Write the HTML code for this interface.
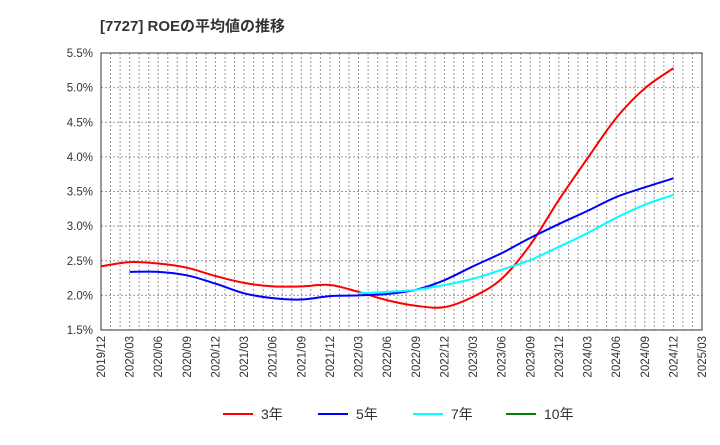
<!DOCTYPE html>
<html><head><meta charset="utf-8"><style>
body{margin:0;background:#fff;font-family:"Liberation Sans","Noto Sans CJK JP",sans-serif;}
svg text{font-family:"Liberation Sans","Noto Sans CJK JP",sans-serif;}
</style></head><body>
<svg id="c" width="720" height="440">
<text x="100" y="31" font-size="15" font-weight="bold" fill="#333">[7727]  ROEの平均値の推移</text>
<g id="grid"></g><g id="axes"></g><g id="series"></g><g id="legend"></g>
</svg>
<script>
const quarters=["2019/12","2020/03","2020/06","2020/09","2020/12","2021/03","2021/06","2021/09","2021/12","2022/03","2022/06","2022/09","2022/12","2023/03","2023/06","2023/09","2023/12","2024/03","2024/06","2024/09","2024/12","2025/03"];
const yTicks=[1.5,2.0,2.5,3.0,3.5,4.0,4.5,5.0,5.5];
const roe3=[2.42,2.48,2.46,2.40,2.28,2.18,2.13,2.13,2.15,2.05,1.93,1.85,1.83,1.98,2.24,2.73,3.38,3.98,4.56,4.99,5.28];
const roe5=[null,2.34,2.34,2.29,2.17,2.03,1.96,1.94,1.99,2.00,2.02,2.08,2.22,2.42,2.61,2.83,3.03,3.22,3.42,3.56,3.69];
const roe7=[null,null,null,null,null,null,null,null,null,2.03,2.05,2.08,2.15,2.24,2.37,2.51,2.70,2.90,3.12,3.31,3.45];
const roe10=[];
const seriesNames=["3年","5年","7年","10年"];
const colors=["#ff0000","#0000ff","#00ffff","#008000"];
const X0=101,X1=702,Y0=330,Y1=53;
const NS="http://www.w3.org/2000/svg";
function xs(i){return X0+(X1-X0)*i/(quarters.length-1);}
function ys(v){return Y0-(v-1.5)/(5.5-1.5)*(Y0-Y1);}
function mk(t,a,p){const e=document.createElementNS(NS,t);for(const k in a)e.setAttribute(k,a[k]);p.appendChild(e);return e;}
const g=document.getElementById('grid'),ax=document.getElementById('axes'),sg=document.getElementById('series'),lg=document.getElementById('legend');
const nm=(quarters.length-1)*3;
for(let m=1;m<nm;m++){const x=X0+(X1-X0)*m/nm;const l=mk('line',{x1:x,x2:x,y1:Y1,y2:Y0,stroke:'#999','stroke-dasharray':'2,2','stroke-width':1},g);

}
yTicks.forEach(v=>{const y=ys(v);
if(v>1.5&&v<5.5){const l=mk('line',{x1:X0,x2:X1,y1:y,y2:y,stroke:'#999','stroke-dasharray':'2,2'},g);

}
const t=mk('text',{x:X0-8,y:y+4,'text-anchor':'end','font-size':11.5,fill:'#333'},ax);t.textContent=v.toFixed(1)+'%';

});
quarters.forEach((q,i)=>{const x=xs(i);const t=mk('text',{transform:`translate(${x+4},${Y0+6}) rotate(-90)`,'text-anchor':'end','font-size':11.5,fill:'#333'},ax);t.textContent=q;

});
const fr=mk('rect',{x:X0,y:Y1,width:X1-X0,height:Y0-Y1,fill:'none',stroke:'#333','stroke-width':1},ax);


function path(arr){const p=[];arr.forEach((v,i)=>{if(v!=null)p.push([xs(i),ys(v)]);});if(p.length<2)return '';
let d=`M${p[0][0]},${p[0][1]}`;for(let i=0;i<p.length-1;i++){const a=p[i-1]||p[i],b=p[i],c=p[i+1],e=p[i+2]||c;
d+=` C${b[0]+(c[0]-a[0])/6},${b[1]+(c[1]-a[1])/6} ${c[0]-(e[0]-b[0])/6},${c[1]-(e[1]-b[1])/6} ${c[0]},${c[1]}`;}return d;}
[roe3,roe5,roe7,roe10].forEach((arr,k)=>{const d=path(arr);if(!d)return;const e=mk('path',{d:d,fill:'none',stroke:colors[k],'stroke-width':2},sg);

});
const lx=[223,318,413,506];
seriesNames.forEach((n,k)=>{const gg=mk('g',{},lg);


mk('line',{x1:lx[k],x2:lx[k]+30,y1:414,y2:414,stroke:colors[k],'stroke-width':2},gg);
const t=mk('text',{x:lx[k]+38,y:419,'font-size':14,fill:'#333'},gg);t.textContent=n;});
</script>
</body></html>
